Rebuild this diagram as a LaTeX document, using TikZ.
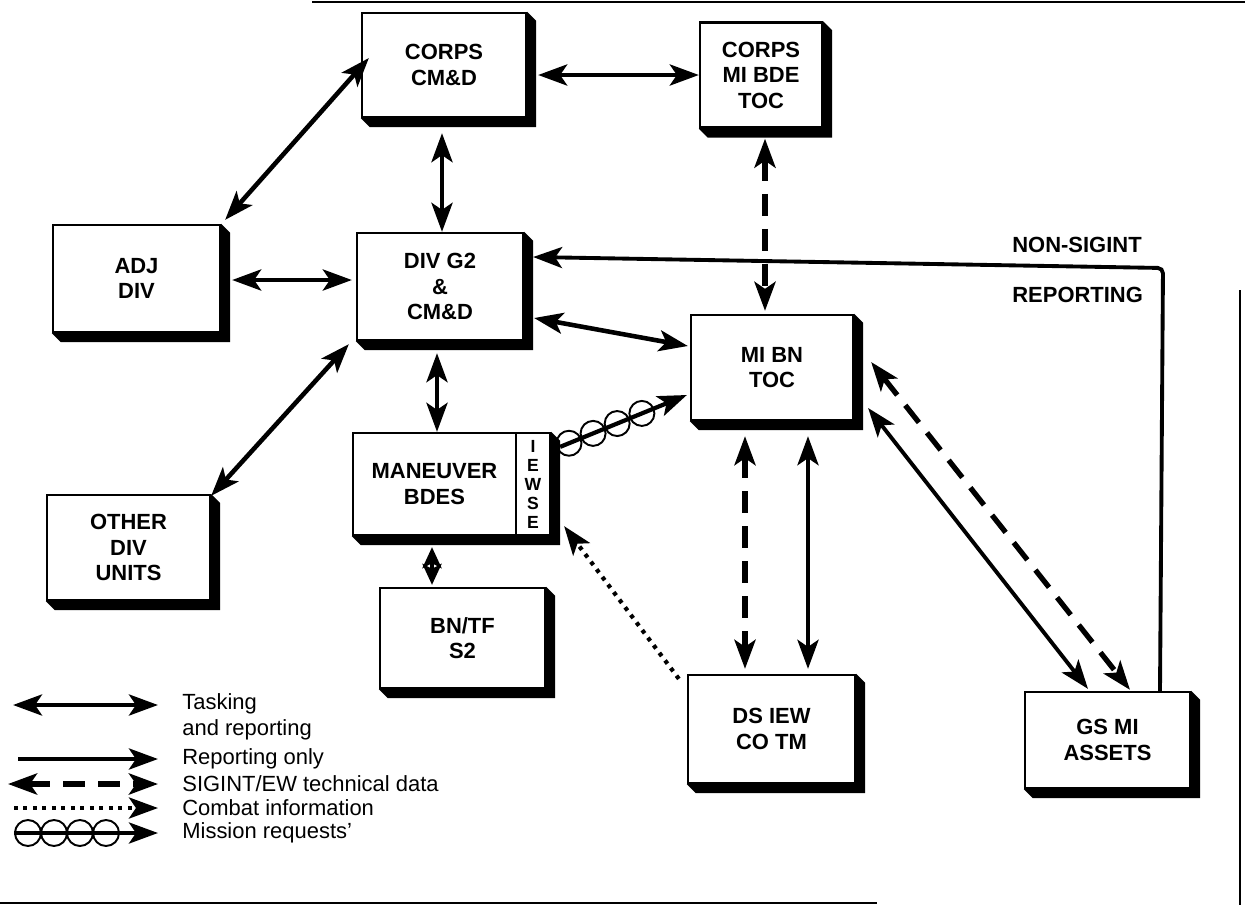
\documentclass[tikz,border=0pt]{standalone}
\usepackage{fontspec}
\setmainfont{Liberation Sans}
\usetikzlibrary{arrows.meta,calc}
\tikzset{
 >={Stealth[length=0.58cm,width=0.42cm,inset=0.14cm]},
 unit/.style={rectangle, draw, fill=white, line width=1.3pt, align=center, font=\bfseries\fontsize{12.5}{14.5}\selectfont, inner sep=0pt},
 ta/.style={<->, line width=2.6pt},
 ro/.style={->, line width=2.2pt},
 sig/.style={<->, line width=3pt, dash pattern=on 0.44cm off 0.26cm},
 ci/.style={->, line width=2.4pt, dash pattern=on 0.08cm off 0.11cm},
 mr/.style={->, line width=2.4pt},
 mc/.style={circle, draw, line width=1.1pt, minimum size=0.5cm, inner sep=0pt},
 leg/.style={anchor=west, align=left, font=\fontsize{12.5}{14.5}\selectfont, inner sep=0pt},
 lab/.style={anchor=west, font=\bfseries\fontsize{12.5}{14.5}\selectfont, inner sep=0pt},
 frame/.style={line width=1.4pt},
 shortta/.style={line width=2.6pt, {Stealth[length=0.42cm,width=0.38cm,inset=0.1cm]}-{Stealth[length=0.42cm,width=0.38cm,inset=0.1cm]}},
}
\newcommand\castshadow[2]{%
 \fill (#1.north east) -- ++(0.18cm,-0.18cm) -- ([shift={(0.18cm,-0.18cm)}]#1.south east)
   -- ([shift={(0.18cm,-0.18cm)}]#2.south west) -- (#2.south west) -- (#1.south east) -- cycle;}
\begin{document}
\begin{tikzpicture}[x=0.02cm,y=-0.02cm]
\useasboundingbox (0,0) rectangle (1245,917);
% frame
\draw[frame] (312,2) -- (1245,2);
\draw[frame] (1240,290) -- (1240,905);
\draw[frame] (0,903) -- (877,903);
% boxes
\node[unit, minimum width=3.28cm, minimum height=2.08cm] (corpscmd) at (444,65) {CORPS\\CM\&D};
\node[unit, minimum width=2.44cm, minimum height=2.1cm] (corpsmi) at (761,75) {CORPS\\MI BDE\\TOC};
\node[unit, minimum width=3.34cm, minimum height=2.14cm] (adjdiv) at (136.5,278.5) {ADJ\\DIV};
\node[unit, minimum width=3.32cm, minimum height=2.14cm] (divg2) at (440,286.5) {DIV G2\\\&\\CM\&D};
\node[unit, minimum width=3.24cm, minimum height=2.1cm] (mibn) at (772,367.5) {MI BN\\TOC};
\node[unit, minimum width=3.26cm, minimum height=2.04cm] (maneuver) at (434.5,484) {MANEUVER\\BDES};
\node[unit, minimum width=0.68cm, minimum height=2.04cm, font=\bfseries\fontsize{10}{10.8}\selectfont] (iewse) at (533,484) {I\\E\\W\\S\\E};
\node[unit, minimum width=3.26cm, minimum height=2.1cm] (otherdiv) at (128.5,547.5) {OTHER\\DIV\\UNITS};
\node[unit, minimum width=3.3cm, minimum height=2.0cm] (bntf) at (462.5,638) {BN/TF\\S2};
\node[unit, minimum width=3.34cm, minimum height=2.16cm] (dsiew) at (771.5,729) {DS IEW\\CO TM};
\node[unit, minimum width=3.3cm, minimum height=1.92cm] (gsmi) at (1107.5,740) {GS MI\\ASSETS};
\castshadow{corpscmd}{corpscmd}
\castshadow{corpsmi}{corpsmi}
\castshadow{adjdiv}{adjdiv}
\castshadow{divg2}{divg2}
\castshadow{mibn}{mibn}
\castshadow{iewse}{maneuver}
\castshadow{otherdiv}{otherdiv}
\castshadow{bntf}{bntf}
\castshadow{dsiew}{dsiew}
\castshadow{gsmi}{gsmi}
% connectors
\draw[ta] ($(corpscmd.east |- 0,75)+(11,0)$) -- (corpsmi.west |- 0,75);
\draw[ta] ($(corpscmd.west |- 0,58)+(8,0)$) -- ($(adjdiv.north east)+(4,-4)$);
\draw[ta] ($(442,0 |- corpscmd.south)+(0,15)$) -- (442,0 |- divg2.north);
\draw[ta] ($(adjdiv.east |- 0,280)+(11,0)$) -- ($(divg2.west |- 0,280)+(-4,0)$);
\coordinate (nscorner) at (1163,268);
\draw[ro, rounded corners=3pt] (1160,0 |- gsmi.north) -- (nscorner) -- ($(divg2.east |- 0,257)+(9,0)$);
\node[lab] (nslab) at (1012,245) {NON-SIGINT};
\node[lab] (replab) at (1012,295) {REPORTING};
\draw[ta] ($(divg2.east |- 0,318)+(10,0)$) -- ($(mibn.west |- 0,346)+(-2,0)$);
\draw[sig] ($(765,0 |- corpsmi.south)+(0,10)$) -- ($(765,0 |- mibn.north)+(0,-3)$);
\draw[ta] ($(437,0 |- divg2.south)+(0,12)$) -- (437,0 |- maneuver.north);
\draw[ta] ($(otherdiv.north east)+(0,2)$) -- ($(divg2.south west)+(-7,3)$);
\draw[mr] ($(iewse.north east)+(9,15)$) -- node[mc,pos=0.07] (m1) {} node[mc,pos=0.26] (m2) {} node[mc,pos=0.45] (m3) {} node[mc,pos=0.645] (m4) {} ($(mibn.west |- 0,395)+(-3,0)$);
\draw[ci] ($(dsiew.north west)+(-8,5)$) -- ($(iewse.south east)+(13,-10)$);
\draw[shortta] ($(432,0 |- maneuver.south)+(0,11)$) -- ($(432,0 |- bntf.north)+(0,-2)$);
\draw[sig] ($(745,0 |- mibn.south)+(0,15)$) -- ($(745,0 |- dsiew.north)+(0,-5)$);
\draw[ta] ($(808,0 |- mibn.south)+(0,15)$) -- ($(808,0 |- dsiew.north)+(0,-5)$);
\draw[ta, line width=2.2pt] ($(mibn.east |- 0,408)+(14,0)$) -- ($(1088,0 |- gsmi.north)+(0,-2)$);
\draw[sig] ($(mibn.east |- 0,362)+(17,0)$) -- ($(1130,0 |- gsmi.north)+(0,-1)$);
% legend
\coordinate (l1a) at (13,705); \coordinate (l1b) at (158,705);
\draw[ta] (l1a) -- (l1b);
\node[leg] (t1) at (182,717) {Tasking\\and reporting};
\coordinate (l2a) at (18,759); \coordinate (l2b) at (158,759);
\draw[ro, line width=2.6pt] (l2a) -- (l2b);
\node[leg] (t2) at (182,759) {Reporting only};
\coordinate (l3a) at (8,784); \coordinate (l3b) at (158,784);
\draw[sig] (l3a) -- (l3b);
\node[leg] (t3) at (182,784) {SIGINT/EW technical data};
\coordinate (l4a) at (14,808); \coordinate (l4b) at (158,808);
\draw[ci] (l4a) -- (l4b);
\node[leg] (t4) at (182,808) {Combat information};
\coordinate (l5a) at (14,833); \coordinate (l5b) at (158,833);
\draw[mr] (l5a) -- node[mc,minimum size=0.52cm,pos=0.097] (lc1) {} node[mc,minimum size=0.52cm,pos=0.278] (lc2) {} node[mc,minimum size=0.52cm,pos=0.458] (lc3) {} node[mc,minimum size=0.52cm,pos=0.639] (lc4) {} (l5b);
\node[leg] (t5) at (182,833) {Mission requests'};
\end{tikzpicture}
\end{document}
